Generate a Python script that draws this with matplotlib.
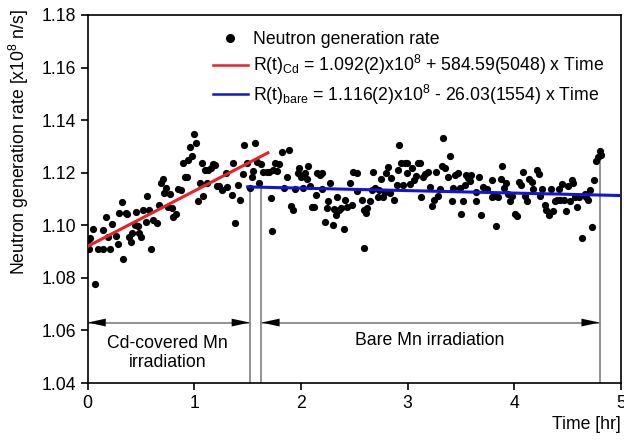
import numpy as np
import matplotlib
matplotlib.use("Agg")
import matplotlib.pyplot as plt
from matplotlib.lines import Line2D

plt.rcParams['font.family'] = ['Liberation Sans', 'DejaVu Sans']
plt.rcParams['mathtext.default'] = 'regular'

# data (time in hr, rate in 1e8 n/s)
t_pts = [0.000, 0.022, 0.053, 0.013, 0.100, 0.146, 0.209, 0.068, 0.140, 0.175,
         0.190, 0.225, 0.262, 0.281, 0.297, 0.318, 0.334, 0.356, 0.372, 0.390,
         0.403, 0.418, 0.443, 0.453, 0.468, 0.484, 0.500, 0.521, 0.543, 0.559,
         0.575, 0.593, 0.615, 0.646, 0.668, 0.687, 0.703, 0.718, 0.731, 0.750,
         0.771, 0.787, 0.803, 0.824, 0.843, 0.871, 0.890, 0.912, 0.928, 0.943,
         0.959, 0.981, 0.996, 1.015, 1.037, 1.053, 1.068, 1.084, 1.100, 1.115,
         1.131, 1.156, 1.178, 1.193, 1.209, 1.231, 1.256,
         1.296, 1.365, 1.349, 1.302, 1.381, 1.411, 1.431, 1.452, 1.466, 1.496,
         1.521, 1.543, 1.553, 1.568, 1.590, 1.609, 1.621, 1.646, 1.677, 1.702,
         1.715, 1.730, 1.740, 1.756, 1.777, 1.796, 1.818, 1.840, 1.865, 1.890,
         1.903, 1.921, 1.943, 1.975, 1.984, 2.000, 2.015, 2.037, 2.053, 2.068,
         2.084, 2.100, 2.121, 2.140, 2.152, 2.177, 2.193, 2.193, 2.224, 2.240,
         2.255, 2.271, 2.296, 2.309, 2.327, 2.340, 2.359, 2.380, 2.402, 2.412,
         2.434, 2.459, 2.474, 2.490, 2.528,
         2.530, 2.574, 2.593, 2.609, 2.624, 2.590, 2.646, 2.677, 2.668, 2.699,
         2.718, 2.734, 2.749, 2.771, 2.787, 2.802, 2.818, 2.834, 2.849, 2.874,
         2.896, 2.906, 2.921, 2.937, 2.958, 2.974, 2.990, 2.999, 3.021, 3.043,
         3.062, 3.083, 3.093, 3.115, 3.130, 3.146, 3.162, 3.187, 3.209, 3.230,
         3.249, 3.271, 3.287, 3.302, 3.318, 3.334, 3.349, 3.380, 3.396, 3.412,
         3.427, 3.449, 3.468, 3.490, 3.499, 3.521, 3.537, 3.552, 3.568, 3.584,
         3.599, 3.637, 3.646, 3.668, 3.693, 3.709, 3.740, 3.787, 3.787,
         3.833, 3.817, 3.848, 3.889, 3.880, 3.902, 3.921, 3.942, 3.958, 3.983,
         4.005, 4.027, 4.046, 4.068, 4.083, 4.099, 4.121, 4.140, 4.162, 4.177,
         4.209, 4.233, 4.240, 4.264, 4.286, 4.302, 4.327, 4.349, 4.365, 4.380,
         4.402, 4.421, 4.433, 4.452, 4.465, 4.484, 4.505, 4.521, 4.537, 4.552,
         4.568, 4.590, 4.608, 4.640, 4.662, 4.677, 4.693, 4.708, 4.730, 4.746,
         4.765, 4.786, 4.802, 4.818]
r_pts = [1.0945, 1.0950, 1.0985, 1.0909, 1.0909, 1.0908, 1.0909, 1.0777, 1.0982, 1.1033,
         1.0957, 1.1005, 1.0960, 1.0929, 1.1046, 1.1090, 1.0873, 1.1048, 1.1044, 1.0957,
         1.0938, 1.0969, 1.1001, 1.1049, 1.0999, 1.0972, 1.0957, 1.1058, 1.1011, 1.1111,
         1.1058, 1.0908, 1.1020, 1.1009, 1.1077, 1.1160, 1.1175, 1.1122, 1.1141, 1.1071,
         1.1118, 1.1066, 1.1033, 1.1044, 1.1137, 1.1135, 1.1236, 1.1185, 1.1184, 1.1248,
         1.1297, 1.1264, 1.1347, 1.1312, 1.1092, 1.1162, 1.1237, 1.1111, 1.1210, 1.1162,
         1.1211, 1.1219, 1.1232, 1.1228, 1.1149, 1.1148, 1.1133,
         1.1198, 1.1238, 1.1115, 1.1147, 1.1007, 1.1153, 1.1096, 1.1195, 1.1305, 1.1237,
         1.1141, 1.1185, 1.1206, 1.1312, 1.1242, 1.1162, 1.1232, 1.1204, 1.1204, 1.1204,
         1.1105, 1.0979, 1.1210, 1.1237, 1.1208, 1.1232, 1.1280, 1.1141, 1.1185, 1.1288,
         1.1073, 1.1058, 1.1137, 1.1198, 1.1219, 1.1185, 1.1140, 1.1198, 1.1175, 1.1225,
         1.1149, 1.1068, 1.1068, 1.1115, 1.1200, 1.1191, 1.1200, 1.1137, 1.1013, 1.1066,
         1.1093, 1.1162, 1.1001, 1.1063, 1.1038, 1.1109, 1.1058, 1.1066, 1.0985, 1.1097,
         1.1071, 1.1162, 1.1077, 1.1204, 1.1198,
         1.1131, 1.1097, 1.1058, 1.1048, 1.1066, 1.0915, 1.1093, 1.1201, 1.1134, 1.1141,
         1.1109, 1.1134, 1.1175, 1.1109, 1.1126, 1.1200, 1.1223, 1.1122, 1.1179, 1.1097,
         1.1153, 1.1211, 1.1305, 1.1238, 1.1153, 1.1238, 1.1200, 1.1236, 1.1156, 1.1216,
         1.1172, 1.1188, 1.1236, 1.1236, 1.1109, 1.1185, 1.1196, 1.1204, 1.1147, 1.1074,
         1.1097, 1.1204, 1.1111, 1.1138, 1.1225, 1.1333, 1.1219, 1.1185, 1.1265, 1.1094,
         1.1141, 1.1191, 1.1200, 1.1141, 1.1042, 1.1094, 1.1153, 1.1191, 1.1179, 1.1169,
         1.1191, 1.1094, 1.1126, 1.1185, 1.1039, 1.1146, 1.1137, 1.1172, 1.1109,
         1.0997, 1.1111, 1.1109, 1.1225, 1.1175, 1.1141, 1.1162, 1.1118, 1.1094, 1.1111,
         1.1043, 1.1035, 1.1166, 1.1153, 1.1204, 1.1111, 1.1094, 1.1175, 1.1166, 1.1137,
         1.1211, 1.1196, 1.1111, 1.1137, 1.1077, 1.1060, 1.1039, 1.1137, 1.1055, 1.1094,
         1.1097, 1.1137, 1.1095, 1.1156, 1.1095, 1.1055, 1.1149, 1.1094, 1.1172, 1.1162,
         1.1109, 1.1071, 1.1109, 1.0950, 1.1118, 1.1109, 1.1097, 1.1134, 1.0995, 1.1172,
         1.1246, 1.1259, 1.1284, 1.1267]

# linear fits: intercept [1e8 n/s], slope [n/s per s], fitted range [hr]
cd_fit = (1.092, 584.59, 0.0, 1.69)
bare_fit = (1.116, -26.03, 1.50, 5.0)

# irradiation boundaries [hr]
cd_start, cd_end = 0.0, 1.52
bare_start, bare_end = 1.63, 4.80
boundary_tops = [1.115, 1.115, 1.125]

FS = 12.7


def fit_line(p):
    a, b, t0, t1 = p
    tt = np.array([t0, t1])
    return tt, a + b * 3600 * tt / 1e8


fig = plt.figure(figsize=(6.24, 4.40), dpi=100)
ax = fig.add_axes([0.1405, 0.1295, 0.8545, 0.8365])

ax.plot(t_pts, r_pts, 'o', color='black', ms=5.2, mec='none', zorder=3)
tt, rr = fit_line(cd_fit)
ax.plot(tt, rr, color='#e8202a', lw=2.2, zorder=4)
tt, rr = fit_line(bare_fit)
ax.plot(tt, rr, color='#1414d8', lw=2.2, zorder=4)

# boundaries
for xb, top in zip([cd_end, bare_start, bare_end], boundary_tops):
    ax.plot([xb, xb], [1.04, top], color='#8a8a8a', lw=1.3, zorder=2)

# arrows
y_arr = 1.063
for x0, x1 in [(cd_start, cd_end), (bare_start, bare_end)]:
    ax.plot([x0, x1], [y_arr, y_arr], color='#8a8a8a', lw=1.3, zorder=2)
    for xa, xt in [(x0, x0 + 0.2), (x1, x1 - 0.2)]:
        ax.annotate('', xy=(xa, y_arr), xytext=(xt, y_arr),
                    arrowprops=dict(arrowstyle='-|>,head_length=1.3,head_width=0.28',
                                    color='black', lw=0.01, shrinkA=0, shrinkB=0))

ax.text(0.75, 1.0514, 'Cd-covered Mn\nirradiation', ha='center', va='center',
        fontsize=FS, linespacing=1.2)
ax.text(3.21, 1.056, 'Bare Mn irradiation', ha='center', va='center', fontsize=FS)

ax.set_xlim(0, 5)
ax.set_ylim(1.04, 1.18)
ax.set_xticks([0, 1, 2, 3, 4, 5])
ax.set_yticks(np.arange(1.04, 1.181, 0.02))
ax.yaxis.set_major_formatter(matplotlib.ticker.FormatStrFormatter('%.2f'))
ax.tick_params(direction='out', length=5, width=1.2, labelsize=FS)
for s in ax.spines.values():
    s.set_linewidth(1.2)

fig.text(0.995, 0.035, 'Time [hr]', ha='right', va='center', fontsize=FS)
fig.text(0.03, 1 - 142 / 440, r'Neutron generation rate [x10$^8$ n/s]',
         rotation=90, ha='center', va='center', fontsize=FS)

handles = [Line2D([], [], ls='none', marker='o', color='black', ms=5.5),
           Line2D([], [], color='#e8202a', lw=1.8),
           Line2D([], [], color='#1414d8', lw=1.8)]
labels = ['Neutron generation rate',
          r'R(t)$_{Cd}$ = 1.092(2)x10$^8$ + 584.59(5048) x Time',
          r'R(t)$_{bare}$ = 1.116(2)x10$^8$ - 26.03(1554) x Time']
ax.legend(handles, labels, loc='upper left', bbox_to_anchor=(0.205, 1.0),
          frameon=False, fontsize=FS, handlelength=2.0, handletextpad=0.25,
          labelspacing=0.3)

fig.savefig('out.png', dpi=100)
